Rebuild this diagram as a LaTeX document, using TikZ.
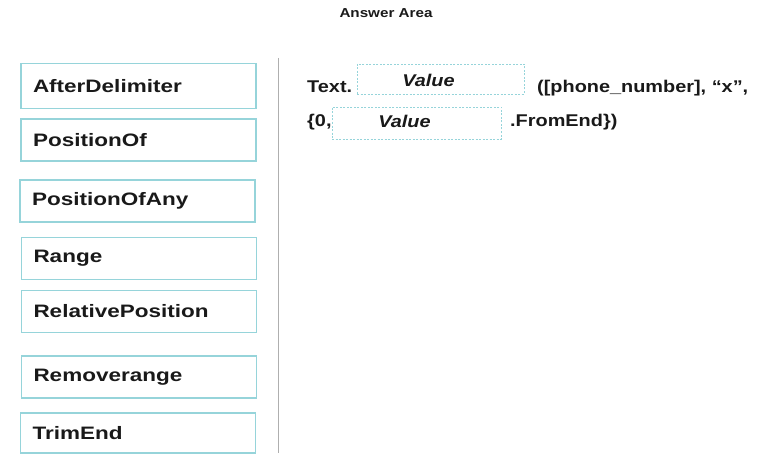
\documentclass[tikz,border=0pt]{standalone}
\usepackage{fontspec}
\setmainfont{Liberation Sans}
\newfontfamily\boxfont[FakeStretch=1.25]{Liberation Sans}
\newfontfamily\codefont[FakeStretch=1.17]{Liberation Sans}
\definecolor{boxcol}{RGB}{150,212,218}
\definecolor{sepcol}{RGB}{175,175,175}
\definecolor{ink}{RGB}{25,25,25}
\begin{document}
\begin{tikzpicture}[
      x=1pt,y=-1pt,
      choice/.style={
        draw=boxcol,line width=1.2pt,minimum width=235pt,minimum height=42pt,
        inner xsep=12pt,text width=211pt,align=left,text=ink,
        font=\boxfont\bfseries\fontsize{18}{20}\selectfont
      },
      slot/.style={
        draw=boxcol,line width=0.9pt,dash pattern=on 2pt off 1.5pt,inner sep=0pt
      },
      code/.style={
        anchor=base west,inner sep=0pt,text=ink,
        font=\codefont\bfseries\fontsize{17}{20}\selectfont
      },
    ]
    \useasboundingbox (0,0) rectangle (773,468);
    \node[font=\codefont\bfseries\fontsize{13}{15}\selectfont,text=ink] (title) at (386,13.5) {Answer Area};
    % choices
    \node[choice,minimum height=45pt] (after) at (138.5,86) {AfterDelimiter};
    \node[choice] (posof) at (138.5,140) {PositionOf};
    \node[choice] (posany) at (137.5,201) {PositionOfAny};
    \node[choice] (range) at (139,258.5) {Range};
    \node[choice] (relpos) at (139,311.5) {RelativePosition};
    \node[choice] (remove) at (139,377) {Removerange};
    \node[choice,minimum height=40pt] (trim) at (138,433) {TrimEnd};
    \coordinate (septop) at (278,58);
    \coordinate (sepbot) at (278,453);
    \draw[sepcol,line width=1pt] (septop) -- (sepbot);
    % answer area
    \node[code] (text) at (307,93) {Text.};
    \node[slot,minimum width=167pt,minimum height=30pt] (slot1) at (440.5,79) {};
    \node[code,anchor=base,font=\codefont\bfseries\itshape\fontsize{17}{20}\selectfont] (val1) at (428.5,87) {Value};
    \node[code] (args) at (537,93) {([phone\_number], “x”,};
    \node[code] (zero) at (307,127) {\{0,};
    \node[slot,minimum width=169pt,minimum height=32pt] (slot2) at (416.5,123) {};
    \node[code,anchor=base,font=\codefont\bfseries\itshape\fontsize{17}{20}\selectfont] (val2) at (404.5,128) {Value};
    \node[code] (fromend) at (510,127) {.FromEnd\})};
  \end{tikzpicture}
\end{document}
